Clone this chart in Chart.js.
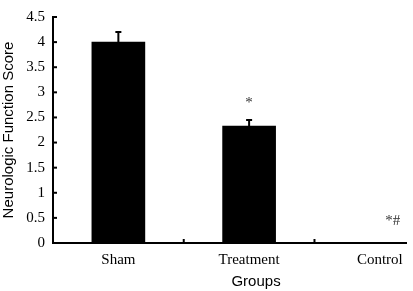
<!DOCTYPE html>
<html>
<head>
<meta charset="utf-8">
<script src="https://cdn.jsdelivr.net/npm/chart.js@4/dist/chart.umd.min.js"></script>
<style>
html,body{margin:0;padding:0;background:#fff;}
#wrap{width:413px;height:291px;position:relative;}
</style>
</head>
<body>
<div id="wrap"><canvas id="c"></canvas></div>
<script>
const groups = ["Sham", "Treatment", "Control"];
const means = [4.0, 2.33, 0];
const errors = [0.2, 0.12, 0];
const marks = ["", "*", "*#"];
const yTicks = [0, 0.5, 1, 1.5, 2, 2.5, 3, 3.5, 4, 4.5];
const yTitle = "Neurologic Function Score";
const xTitle = "Groups";

const extras = {
  id: 'extras',
  afterDatasetsDraw(chart) {
    const ctx = chart.ctx;
    const xs = chart.scales.x, ys = chart.scales.y;
    ctx.save();
    ctx.strokeStyle = '#000';
    ctx.lineWidth = 2;
    // error bars (upper only)
    means.forEach((m, i) => {
      if (!errors[i]) return;
      const x = xs.getPixelForValue(i);
      const y0 = ys.getPixelForValue(m);
      const y1 = ys.getPixelForValue(m + errors[i]);
      ctx.beginPath();
      ctx.moveTo(x, y0); ctx.lineTo(x, y1);
      ctx.moveTo(x - 3, y1); ctx.lineTo(x + 3, y1);
      ctx.stroke();
    });
    // inward y ticks
    const ax = chart.chartArea.left;
    yTicks.forEach(v => {
      const y = ys.getPixelForValue(v);
      ctx.beginPath(); ctx.moveTo(ax, y); ctx.lineTo(ax + 4, y); ctx.stroke();
    });
    // inward x ticks between groups
    const by = chart.chartArea.bottom;
    for (let i = 0; i < groups.length - 1; i++) {
      const x = xs.getPixelForValue(i + 0.5);
      ctx.beginPath(); ctx.moveTo(x, by); ctx.lineTo(x, by - 4); ctx.stroke();
    }
    // significance marks
    ctx.fillStyle = '#333';
    ctx.font = '15px "Liberation Serif"';
    ctx.textAlign = 'center';
    ctx.textBaseline = 'middle';
    marks.forEach((t, i) => {
      if (!t) return;
      const top = means[i] + errors[i];
      const x = xs.getPixelForValue(i) + (i === 2 ? 13 : 0);
      const y = ys.getPixelForValue(top) - (i === 2 ? 22 : 17);
      ctx.fillText(t, x, y);
    });
    // x title
    ctx.fillStyle = '#000';
    ctx.font = '15px "Liberation Sans"';
    ctx.fillText(xTitle, xs.getPixelForValue(1.053), 282);
    ctx.restore();
  }
};

new Chart(document.getElementById('c'), {
  type: 'bar',
  data: {
    datasets: [{
      data: groups.map((g, i) => ({x: i, y: means[i]})),
      backgroundColor: '#000',
      borderWidth: 0,
      barThickness: 53
    }]
  },
  options: {
    responsive: true,
    maintainAspectRatio: false,
    animation: false,
    devicePixelRatio: 1,
    layout: {padding: {left: 0, top: 13, right: 7, bottom: 0}},
    plugins: {legend: {display: false}, tooltip: {enabled: false}},
    scales: {
      x: {
        type: 'linear',
        offset: false,
        min: -0.5,
        max: 2.2,
        grid: {display: false, drawTicks: false, offset: false},
        border: {display: true, color: '#000', width: 2},
        afterBuildTicks: s => { s.ticks = groups.map((g, i) => ({value: i})); },
        afterFit: s => { s.height = 48; },
        ticks: {
          autoSkip: false,
          maxRotation: 0,
          padding: 8,
          color: '#000',
          font: {family: '"Liberation Serif"', size: 15},
          callback: v => groups[v]
        }
      },
      y: {
        min: 0,
        max: 4.5,
        grid: {display: false, drawTicks: false},
        border: {display: true, color: '#000', width: 2},
        afterBuildTicks: s => { s.ticks = yTicks.map(v => ({value: v})); },
        afterFit: s => { s.width = 53; },
        title: {
          display: true,
          text: yTitle,
          color: '#000',
          padding: 0,
          font: {family: '"Liberation Sans"', size: 15}
        },
        ticks: {
          padding: 8,
          color: '#000',
          font: {family: '"Liberation Serif"', size: 15},
          callback: v => String(v)
        }
      }
    }
  },
  plugins: [extras]
});
</script>
</body>
</html>
